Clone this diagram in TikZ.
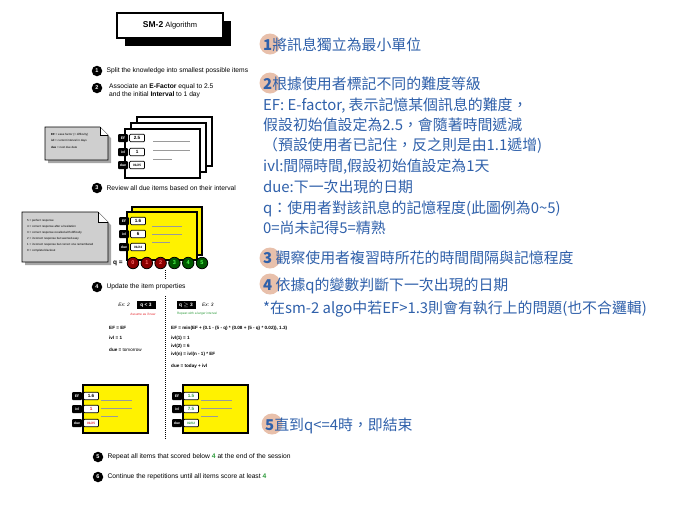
\documentclass[tikz,border=0pt]{standalone}
\usepackage{fontspec}
\setmainfont{Liberation Sans}
\newfontfamily\cjk{Noto Sans CJK TC}
\usetikzlibrary{positioning}
\definecolor{zhblue}{HTML}{2F60AA}
\definecolor{peach}{HTML}{E4B59C}
\definecolor{okgreen}{HTML}{2E9B3C}
\definecolor{badred}{HTML}{E4262C}
\definecolor{notegray}{HTML}{CFCFCF}
\definecolor{rulegray}{HTML}{9A9A9A}

\begin{document}
\begin{tikzpicture}[x=1pt, y=-1pt, node distance=1pt,
    stepnum/.style={circle, fill=black, text=white, inner sep=0pt, minimum size=10.5pt, font=\bfseries\fontsize{5.5}{5.5}\selectfont},
    steptxt/.style={anchor=west, inner sep=0pt, font=\fontsize{6.7}{8}\selectfont},
    card/.style={draw, line width=1.3pt, fill=white},
    ycard/.style={card, fill=yellow},
    tag/.style={fill=black, text=white, rounded corners=1pt, inner sep=0pt, minimum width=10pt, minimum height=8pt, font=\bfseries\fontsize{3.5}{4}\selectfont},
    val/.style={draw, line width=0.7pt, fill=white, rounded corners=1pt, inner sep=0pt, minimum width=15pt, minimum height=7.5pt, font=\bfseries\fontsize{4.6}{4.6}\selectfont},
    bar/.style={draw=rulegray, line width=0.6pt},
    note/.style={draw, line width=0.6pt, fill=notegray},
    notetxt/.style={anchor=west, inner sep=0pt, font=\fontsize{2.9}{3}\selectfont},
    qball/.style={circle, draw, line width=0.8pt, inner sep=0pt, minimum size=11.5pt, font=\bfseries\fontsize{5.5}{5.5}\selectfont},
    lowq/.style={qball, fill=red!55!black, text=red!60!white},
    highq/.style={qball, fill=green!35!black, text=green!70!white},
    qbox/.style={fill=black, text=white, inner sep=0pt, minimum width=19pt, minimum height=8pt, font=\bfseries\fontsize{4.8}{5}\selectfont},
    rule/.style={anchor=west, inner sep=0pt, font=\bfseries\fontsize{4.6}{5}\selectfont},
    zh/.style={anchor=base west, inner sep=0pt, text=zhblue, font=\cjk\fontsize{14.9}{16}\selectfont},
    numdisc/.style={circle, fill=peach, opacity=0.85, minimum size=21pt, inner sep=0pt}]

    \useasboundingbox (0,0) rectangle (684,512);

    % Title
    \fill (125,21) rectangle (231,46);
    \draw[line width=1.3pt, fill=white] (117,13) rectangle (223,38);
    \node[font=\fontsize{7.5}{8}\selectfont] (title) at (170,25.5) {\textbf{\fontsize{8.5}{9}\selectfont SM-2} Algorithm};

    % Steps 1-2
    \node[stepnum] (s1) at (97,71) {1};
    \node[steptxt, right=4pt of s1] (s1t) {Split the knowledge into smallest possible items};
    \node[stepnum] (s2) at (97,88) {2};
    \node[steptxt, align=left, anchor=north west] (s2t) at (109,83) {Associate an \textbf{E-Factor} equal to 2.5\\and the initial \textbf{Interval} to 1 day};

    % Legend note 1
    \fill[black!35] (48,130) -- (103,130) -- (111,138) -- (111,163) -- (48,163) -- cycle;
    \draw[note] (45,127) -- (100,127) -- (108,135) -- (108,160) -- (45,160) -- cycle;
    \draw[note, fill=white] (100,127) -- (100,135) -- (108,135);
    \node[notetxt] (n1a) at (51,135) {\textbf{EF} = ease factor (= difficulty)};
    \node[notetxt] (n1b) at (51,141) {\textbf{ivl} = current interval in days};
    \node[notetxt] (n1c) at (51,147) {\textbf{due} = next due date};

    % White card stack
    \draw[card] (137,117) rectangle (212,166);
    \draw[card] (131,123) rectangle (206,172);
    \draw[card] (125,129) rectangle (200,178);
    \node[tag] (ef1) at (123,138) {EF};
    \node[val, right=of ef1] (ef1v) {2.5};
    \node[tag] (ivl1) at (123,152) {ivl};
    \node[val, right=of ivl1] (ivl1v) {1};
    \node[tag] (due1) at (123,165) {due};
    \node[val, right=of due1, font=\bfseries\fontsize{3.2}{3}\selectfont] (due1v) {01/25};
    \draw[bar] (153,141) -- (190,141);
    \draw[bar] (153,150) -- (190,150);
    \draw[bar] (153,159) -- (172,159);

    % Step 3
    \node[stepnum] (s3) at (97,188) {3};
    \node[steptxt, right=4pt of s3] (s3t) {Review all due items based on their interval};

    % Legend note 2
    \fill[black!35] (25,215) -- (101,215) -- (111,225) -- (111,265) -- (25,265) -- cycle;
    \draw[note] (22,212) -- (98,212) -- (108,222) -- (108,262) -- (22,262) -- cycle;
    \draw[note, fill=white] (98,212) -- (98,222) -- (108,222);
    \node[notetxt] (n2a) at (27,221) {5 = perfect response};
    \node[notetxt] (n2b) at (27,227) {4 = correct response after a hesitation};
    \node[notetxt] (n2c) at (27,233) {3 = correct response recalled with difficulty};
    \node[notetxt] (n2d) at (27,239) {2 = incorrect response but seemed easy};
    \node[notetxt] (n2e) at (27,245) {1 = incorrect response but correct one remembered};
    \node[notetxt] (n2f) at (27,251) {0 = complete blackout};

    % Yellow card stack
    \draw[ycard] (132,207) rectangle (202,255);
    \draw[ycard] (127,212) rectangle (197,260);
    \node[tag] (ef2) at (124,221) {EF};
    \node[val, right=of ef2] (ef2v) {1.6};
    \node[tag] (ivl2) at (124,234) {ivl};
    \node[val, right=of ivl2] (ivl2v) {6};
    \node[tag] (due2) at (124,247) {due};
    \node[val, right=of due2, font=\bfseries\fontsize{3.2}{3}\selectfont] (due2v) {01/24};
    \draw[bar] (152,226) -- (182,226);
    \draw[bar] (152,234) -- (182,234);
    \draw[bar] (152,242) -- (170,242);

    % Grades
    \node[font=\bfseries\fontsize{6.5}{6.5}\selectfont] (qeq) at (118,263) {q =};
    \node[lowq] (q0) at (133,263) {0};
    \node[lowq, right=1.5pt of q0] (q1) {1};
    \node[lowq, right=1.5pt of q1] (q2) {2};
    \node[highq, right=1.5pt of q2] (q3) {3};
    \node[highq, right=1.5pt of q3] (q4) {4};
    \node[highq, right=1.5pt of q4] (q5) {5};
    \coordinate (split) at (165,279);
    \draw[densely dotted, line width=1pt] (165,270) -- (split);

    % Step 4
    \node[stepnum] (s4) at (97,287) {4};
    \node[steptxt, right=4pt of s4] (s4t) {Update the item properties};
    \coordinate (fork) at (165,296);
    \coordinate (forkend) at (165,440);
    \draw[densely dotted, line width=1pt] (fork) -- (forkend);

    % Branches
    \node[qbox] (low) at (146,305) {q < 3};
    \node[left=3pt of low, font=\itshape\fontsize{4.8}{5}\selectfont] (ex2) {Ex: 2};
    \node[qbox] (high) at (186,305) {q $\geq$ 3};
    \node[right=3pt of high, font=\itshape\fontsize{4.8}{5}\selectfont] (ex3) {Ex: 3};
    \node[text=badred, font=\fontsize{3.2}{3}\selectfont] (lowlbl) at (143,314) {Assume as if new};
    \node[text=okgreen, font=\fontsize{3.2}{3}\selectfont] (highlbl) at (197,314) {Repeat with a larger interval};

    \node[rule] (l1) at (109,328) {EF = EF};
    \node[rule] (l2) at (109,338) {ivl = 1};
    \node[rule] (l3) at (109,350) {due = \textmd{tomorrow}};

    \node[rule] (r1) at (171,328) {EF = min(EF + (0.1 - (5 - q) * (0.08 + (5 - q) * 0.02)), 1.3)};
    \node[rule] (r2) at (171,338) {ivl(1) = 1};
    \node[rule] (r3) at (171,346) {ivl(2) = 6};
    \node[rule] (r4) at (171,354) {ivl(n) = ivl(n - 1) * EF};
    \node[rule] (r5) at (171,366) {due = today + ivl};

    % Result cards
    \draw[ycard] (83,385) rectangle (148,433);
    \node[tag] (ef3) at (77,396) {EF};
    \node[val, right=of ef3] (ef3v) {1.6};
    \node[tag] (ivl3) at (77,409) {ivl};
    \node[val, right=of ivl3, text=badred] (ivl3v) {1};
    \node[tag] (due3) at (77,423) {due};
    \node[val, right=of due3, text=badred, font=\bfseries\fontsize{3.2}{3}\selectfont] (due3v) {01/25};
    \draw[bar] (101,400) -- (132,400);
    \draw[bar] (101,408) -- (132,408);
    \draw[bar] (101,416) -- (118,416);

    \draw[ycard] (183,385) rectangle (248,433);
    \node[tag] (ef4) at (177,396) {EF};
    \node[val, right=of ef4, text=okgreen] (ef4v) {1.5};
    \node[tag] (ivl4) at (177,409) {ivl};
    \node[val, right=of ivl4, text=okgreen] (ivl4v) {7.5};
    \node[tag] (due4) at (177,423) {due};
    \node[val, right=of due4, text=okgreen, font=\bfseries\fontsize{3.2}{3}\selectfont] (due4v) {02/02};
    \draw[bar] (201,400) -- (232,400);
    \draw[bar] (201,408) -- (232,408);
    \draw[bar] (201,416) -- (218,416);

    % Steps 5-6
    \node[stepnum] (s5) at (98,457) {5};
    \node[steptxt, right=4pt of s5] (s5t) {Repeat all items that scored below \textcolor{okgreen}{\textbf{4}} at the end of the session};
    \node[stepnum] (s6) at (98,477) {6};
    \node[steptxt, right=4pt of s6] (s6t) {Continue the repetitions until all items score at least \textcolor{okgreen}{\textbf{4}}};

    % Notes in Chinese
    \node[numdisc] (d1) at (270,44) {};
    \node[zh] (z1) at (263,50) {\textbf{1}將訊息獨立為最小單位};
    \node[numdisc] (d2) at (270,83) {};
    \node[zh] (z2) at (263,89) {\textbf{2}根據使用者標記不同的難度等級};
    \node[zh] (z3) at (263,110) {EF: E-factor, 表示記憶某個訊息的難度，};
    \node[zh] (z4) at (263,130) {假設初始值設定為2.5，會隨著時間遞減};
    \node[zh] (z5) at (263,150) {（預設使用者已記住，反之則是由1.1遞增)};
    \node[zh] (z6) at (263,171) {ivl:間隔時間,假設初始值設定為1天};
    \node[zh] (z7) at (263,192) {due:下一次出現的日期};
    \node[zh] (z8) at (263,213) {q：使用者對該訊息的記憶程度(此圖例為0\textasciitilde5)};
    \node[zh] (z9) at (263,233) {0=尚未記得5=精熟};
    \node[numdisc] (d3) at (270,258) {};
    \node[zh] (z10) at (263,263) {\textbf{3} 觀察使用者複習時所花的時間間隔與記憶程度};
    \node[numdisc] (d4) at (270,284) {};
    \node[zh] (z11) at (263,290) {\textbf{4} 依據q的變數判斷下一次出現的日期};
    \node[zh] (z12) at (263,313) {*在sm-2 algo中若EF>1.3則會有執行上的問題(也不合邏輯)};
    \node[numdisc] (d5) at (272,424) {};
    \node[zh] (z13) at (265,430) {\textbf{5}直到q<=4時，即結束};
  \end{tikzpicture}
\end{document}
